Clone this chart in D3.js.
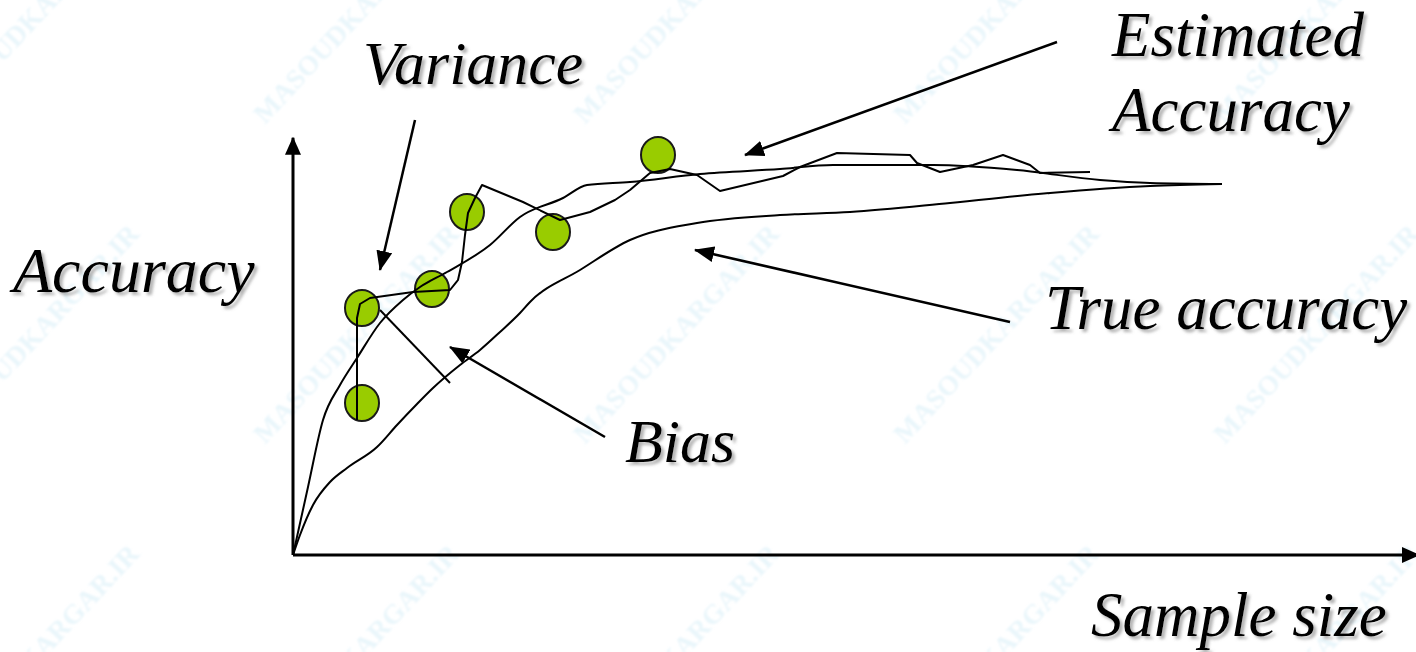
<!DOCTYPE html>
<html>
<head>
<meta charset="utf-8">
<script src="https://cdn.jsdelivr.net/npm/d3@7"></script>
<style>
  html, body { margin: 0; padding: 0; background: #fff; }
  svg { display: block; }
</style>
</head>
<body>
<svg id="chart" width="1416" height="652"></svg>
<script>
// Sample size on x (0..112), accuracy on y (0..100)

// Expected accuracy of the estimate (smooth upper curve)
const estimatedCurve = [
  [0, 0], [1.5, 17], [3.0, 33.75], [4.7, 42.5], [6.4, 49.25], [8.7, 58],
  [11.0, 63.75], [12.7, 67], [15.4, 70.75], [19.7, 77.5], [22.7, 84.5],
  [27.0, 89.25], [29.4, 92.5], [33.7, 93.25], [40.7, 95.25], [48.7, 96.5],
  [54.0, 97.5], [64.0, 97.5], [72.4, 96.25], [80.7, 93.75], [85.7, 93],
  [92.9, 92.75]
];

// True accuracy (lower curve)
const trueCurve = [
  [0, 0], [0.7, 5], [2.0, 12.5], [3.7, 18.25], [5.4, 21.75], [8.4, 27],
  [10.4, 32.5], [12.4, 37.75], [14.0, 41.75], [16.7, 47.5], [18.7, 51.25],
  [20.7, 55.75], [22.7, 60.5], [23.7, 63.25], [28.7, 71.25], [33.7, 78.75],
  [40.4, 83], [48.7, 85], [55.7, 85.75], [65.7, 88], [75.7, 90.5],
  [85.7, 92.25], [92.9, 92.75]
];

// One noisy run of the estimate
const sampleRun = [
  [6.4, 33.75], [6.4, 59.25], [6.7, 62.75], [7.7, 64.25], [12.0, 65.75],
  [15.7, 66.25], [16.5, 68.75], [16.9, 73.25], [17.2, 80], [17.5, 85.5],
  [18.2, 89.25], [18.9, 92.5], [23.0, 88.25], [26.7, 83.75], [29.7, 85.75],
  [32.2, 88.75], [33.7, 91.25], [35.7, 95.5], [37.7, 96.5], [40.4, 95],
  [42.7, 91], [49.0, 94.75], [50.7, 97], [54.4, 100.5], [61.7, 100],
  [62.4, 98], [64.7, 95.75], [68.0, 97.5], [71.0, 100], [73.7, 97.5],
  [74.7, 95.5], [79.7, 95.75]
];

// Individual estimates
const samplePoints = [
  [6.9, 38], [6.9, 61.75], [13.9, 66.5], [17.4, 85.75], [26.0, 80.75], [36.5, 100]
];

// Gap between estimate and truth
const biasSegment = [[8.7, 61.25], [15.7, 43]];

// Callout arrows: [from, to]
const arrows = [
  [[12.2, 108.75], [8.7, 71.25]],   // Variance
  [[76.4, 128.25], [45.2, 100]],    // Estimated Accuracy
  [[71.7, 58.25], [40.2, 76.25]],   // True accuracy
  [[31.2, 29.5], [15.7, 52]]        // Bias
];

const labelTexts = ["Variance", "Estimated", "Accuracy", "Accuracy", "True accuracy", "Bias", "Sample size"];
const watermarkText = "MASOUDKARGAR.IR";

const svg = d3.select("#chart");
const W = 1416, H = 652;

const x = d3.scaleLinear().domain([0, 112]).range([293, 1413]);
const y = d3.scaleLinear().domain([0, 100]).range([555, 155]);

const defs = svg.append("defs");

const shadow = defs.append("filter").attr("id", "txtShadow")
  .attr("x", "-10%").attr("y", "-20%").attr("width", "130%").attr("height", "150%");
shadow.append("feDropShadow")
  .attr("dx", 3).attr("dy", 3).attr("stdDeviation", 1.6)
  .attr("flood-color", "#777").attr("flood-opacity", 0.55);

const wmBlur = defs.append("filter").attr("id", "wmBlur");
wmBlur.append("feGaussianBlur").attr("stdDeviation", 0.9);

defs.append("marker")
  .attr("id", "head")
  .attr("viewBox", "0 0 20 16")
  .attr("refX", 19).attr("refY", 8)
  .attr("markerWidth", 20).attr("markerHeight", 16)
  .attr("markerUnits", "userSpaceOnUse")
  .attr("orient", "auto")
  .append("path").attr("d", "M0,0 L20,8 L0,16 Z").attr("fill", "#000");

defs.append("marker")
  .attr("id", "axisHead")
  .attr("viewBox", "0 0 18 16")
  .attr("refX", 17).attr("refY", 8)
  .attr("markerWidth", 18).attr("markerHeight", 16)
  .attr("markerUnits", "userSpaceOnUse")
  .attr("orient", "auto")
  .append("path").attr("d", "M0,0 L18,8 L0,16 Z").attr("fill", "#000");

// Faint repeating watermark
const wm = svg.append("g").attr("filter", "url(#wmBlur)");
const wmCols = d3.range(-55, W + 100, 320);
const wmRows = d3.range(125, H + 200, 320);
wmRows.forEach(ry => {
  wmCols.forEach(cx => {
    wm.append("text")
      .attr("transform", `translate(${cx},${ry}) rotate(-47)`)
      .attr("font-family", "Liberation Serif, Times New Roman, serif")
      .attr("font-weight", "bold")
      .attr("font-size", 28)
      .attr("fill", "#d3eef7")
      .attr("fill-opacity", 0.5)
      .text(watermarkText);
  });
});

// Axes
svg.append("line")
  .attr("x1", x(0)).attr("y1", y(0)).attr("x2", x(0)).attr("y2", y(104.3))
  .attr("stroke", "#000").attr("stroke-width", 3)
  .attr("marker-end", "url(#axisHead)");
svg.append("line")
  .attr("x1", x(0)).attr("y1", y(0)).attr("x2", x(112.6)).attr("y2", y(0))
  .attr("stroke", "#000").attr("stroke-width", 3)
  .attr("marker-end", "url(#axisHead)");

// Estimates as green dots (drawn under the lines)
svg.append("g").selectAll("ellipse")
  .data(samplePoints)
  .join("ellipse")
  .attr("cx", d => x(d[0])).attr("cy", d => y(d[1]))
  .attr("rx", 17).attr("ry", 18)
  .attr("fill", "#99cc00")
  .attr("stroke", "#1a1a1a").attr("stroke-width", 2);

const smooth = d3.line().x(d => x(d[0])).y(d => y(d[1])).curve(d3.curveMonotoneX);
const jagged = d3.line().x(d => x(d[0])).y(d => y(d[1])).curve(d3.curveLinear);

svg.append("path").datum(estimatedCurve).attr("d", smooth)
  .attr("fill", "none").attr("stroke", "#000").attr("stroke-width", 2);
svg.append("path").datum(trueCurve).attr("d", smooth)
  .attr("fill", "none").attr("stroke", "#000").attr("stroke-width", 2);
svg.append("path").datum(sampleRun).attr("d", jagged)
  .attr("fill", "none").attr("stroke", "#000").attr("stroke-width", 2)
  .attr("stroke-linejoin", "round");
svg.append("path").datum(biasSegment).attr("d", jagged)
  .attr("fill", "none").attr("stroke", "#000").attr("stroke-width", 2);

// Callout arrows
svg.append("g").selectAll("line")
  .data(arrows)
  .join("line")
  .attr("x1", d => x(d[0][0])).attr("y1", d => y(d[0][1]))
  .attr("x2", d => x(d[1][0])).attr("y2", d => y(d[1][1]))
  .attr("stroke", "#000").attr("stroke-width", 2.5)
  .attr("marker-end", "url(#head)");

// Labels
const labelPos = [
  { x: 363, y: 84, size: 62 },
  { x: 1112, y: 56, size: 63 },
  { x: 1112, y: 131, size: 63 },
  { x: 13, y: 292, size: 64 },
  { x: 1045, y: 329, size: 63 },
  { x: 625, y: 462, size: 62 },
  { x: 1091, y: 636, size: 63 }
];
svg.append("g").selectAll("text")
  .data(labelTexts)
  .join("text")
  .attr("x", (d, i) => labelPos[i].x)
  .attr("y", (d, i) => labelPos[i].y)
  .attr("font-size", (d, i) => labelPos[i].size)
  .attr("font-family", "Liberation Serif, Times New Roman, serif")
  .attr("font-style", "italic")
  .attr("fill", "#000")
  .attr("filter", "url(#txtShadow)")
  .text(d => d);
</script>
</body>
</html>
